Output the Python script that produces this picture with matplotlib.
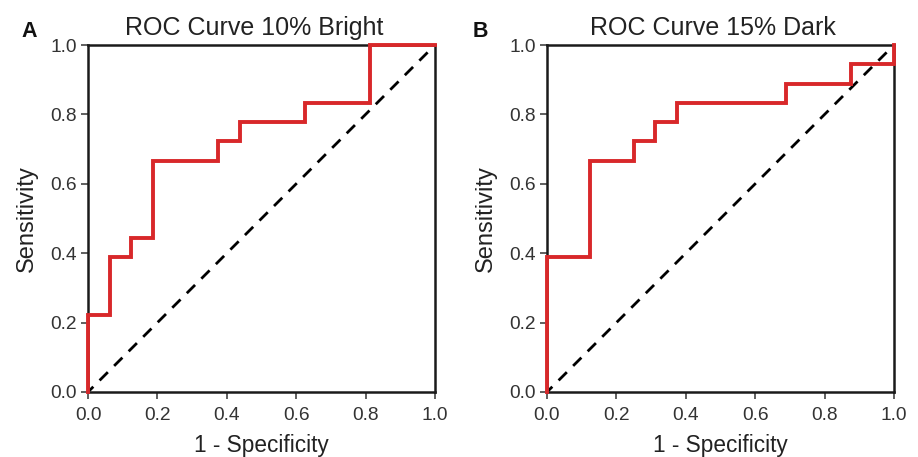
import matplotlib
matplotlib.use("Agg")
import matplotlib.pyplot as plt

plt.rcParams['font.family'] = ['Liberation Sans', 'DejaVu Sans']

# ROC curve A: 10% bright (false positive rate, true positive rate)
fpr_a = [0.0, 0.0, 0.0625, 0.0625, 0.125, 0.125, 0.1875, 0.1875, 0.375, 0.375,
         0.4375, 0.4375, 0.625, 0.625, 0.8125, 0.8125, 1.0]
tpr_a = [0.0, 0.222, 0.222, 0.389, 0.389, 0.444, 0.444, 0.667, 0.667, 0.722,
         0.722, 0.778, 0.778, 0.833, 0.833, 1.0, 1.0]

# ROC curve B: 15% dark
fpr_b = [0.0, 0.0, 0.125, 0.125, 0.25, 0.25, 0.3125, 0.3125, 0.375, 0.375,
         0.6875, 0.6875, 0.875, 0.875, 1.0, 1.0]
tpr_b = [0.0, 0.389, 0.389, 0.667, 0.667, 0.722, 0.722, 0.778, 0.778, 0.833,
         0.833, 0.889, 0.889, 0.944, 0.944, 1.0]

titles = ["ROC Curve 10% Bright", "ROC Curve 15% Dark"]
letters = ["A", "B"]
ticks = [0.0, 0.2, 0.4, 0.6, 0.8, 1.0]

W, H = 918, 457
fig = plt.figure(figsize=(W / 100, H / 100), dpi=100)

lefts = [88, 547]
letter_x = [21, 473]
curves = [(fpr_a, tpr_a), (fpr_b, tpr_b)]

for i in range(2):
    ax = fig.add_axes([lefts[i] / W, (H - 392) / H, 347 / W, 347 / H])
    fpr, tpr = curves[i]
    ax.plot([0, 1], [0, 1], color='black', linestyle=(1.5, (4.2, 3.2)), lw=2.0,
            zorder=2)
    ax.plot(fpr, tpr, color='#d8282a', lw=2.8, clip_on=False, zorder=5,
            solid_joinstyle='miter')
    ax.set_xlim(0, 1)
    ax.set_ylim(0, 1)
    ax.set_xticks(ticks)
    ax.set_yticks(ticks)
    ax.set_xticklabels(["%.1f" % t for t in ticks])
    ax.set_yticklabels(["%.1f" % t for t in ticks])
    ax.tick_params(direction='out', length=5, width=1.2, color='#444444',
                   labelsize=13.8, labelcolor='#333333', pad=3)
    ax.tick_params(axis='x', pad=6)
    for s in ax.spines.values():
        s.set_linewidth(1.8)
        s.set_color('#1a1a1a')
    ax.set_xlabel("1 - Specificity", fontsize=16.3, color='#222222', labelpad=7)
    ax.set_ylabel("Sensitivity", fontsize=17, color='#222222', labelpad=9)
    ax.set_title(titles[i], fontsize=18, color='#222222', pad=7, x=0.478)
    fig.text(letter_x[i] / W, (H - 37) / H, letters[i], fontsize=15.5,
             fontweight='bold', color='#111111')

fig.savefig("out.png", dpi=100)
